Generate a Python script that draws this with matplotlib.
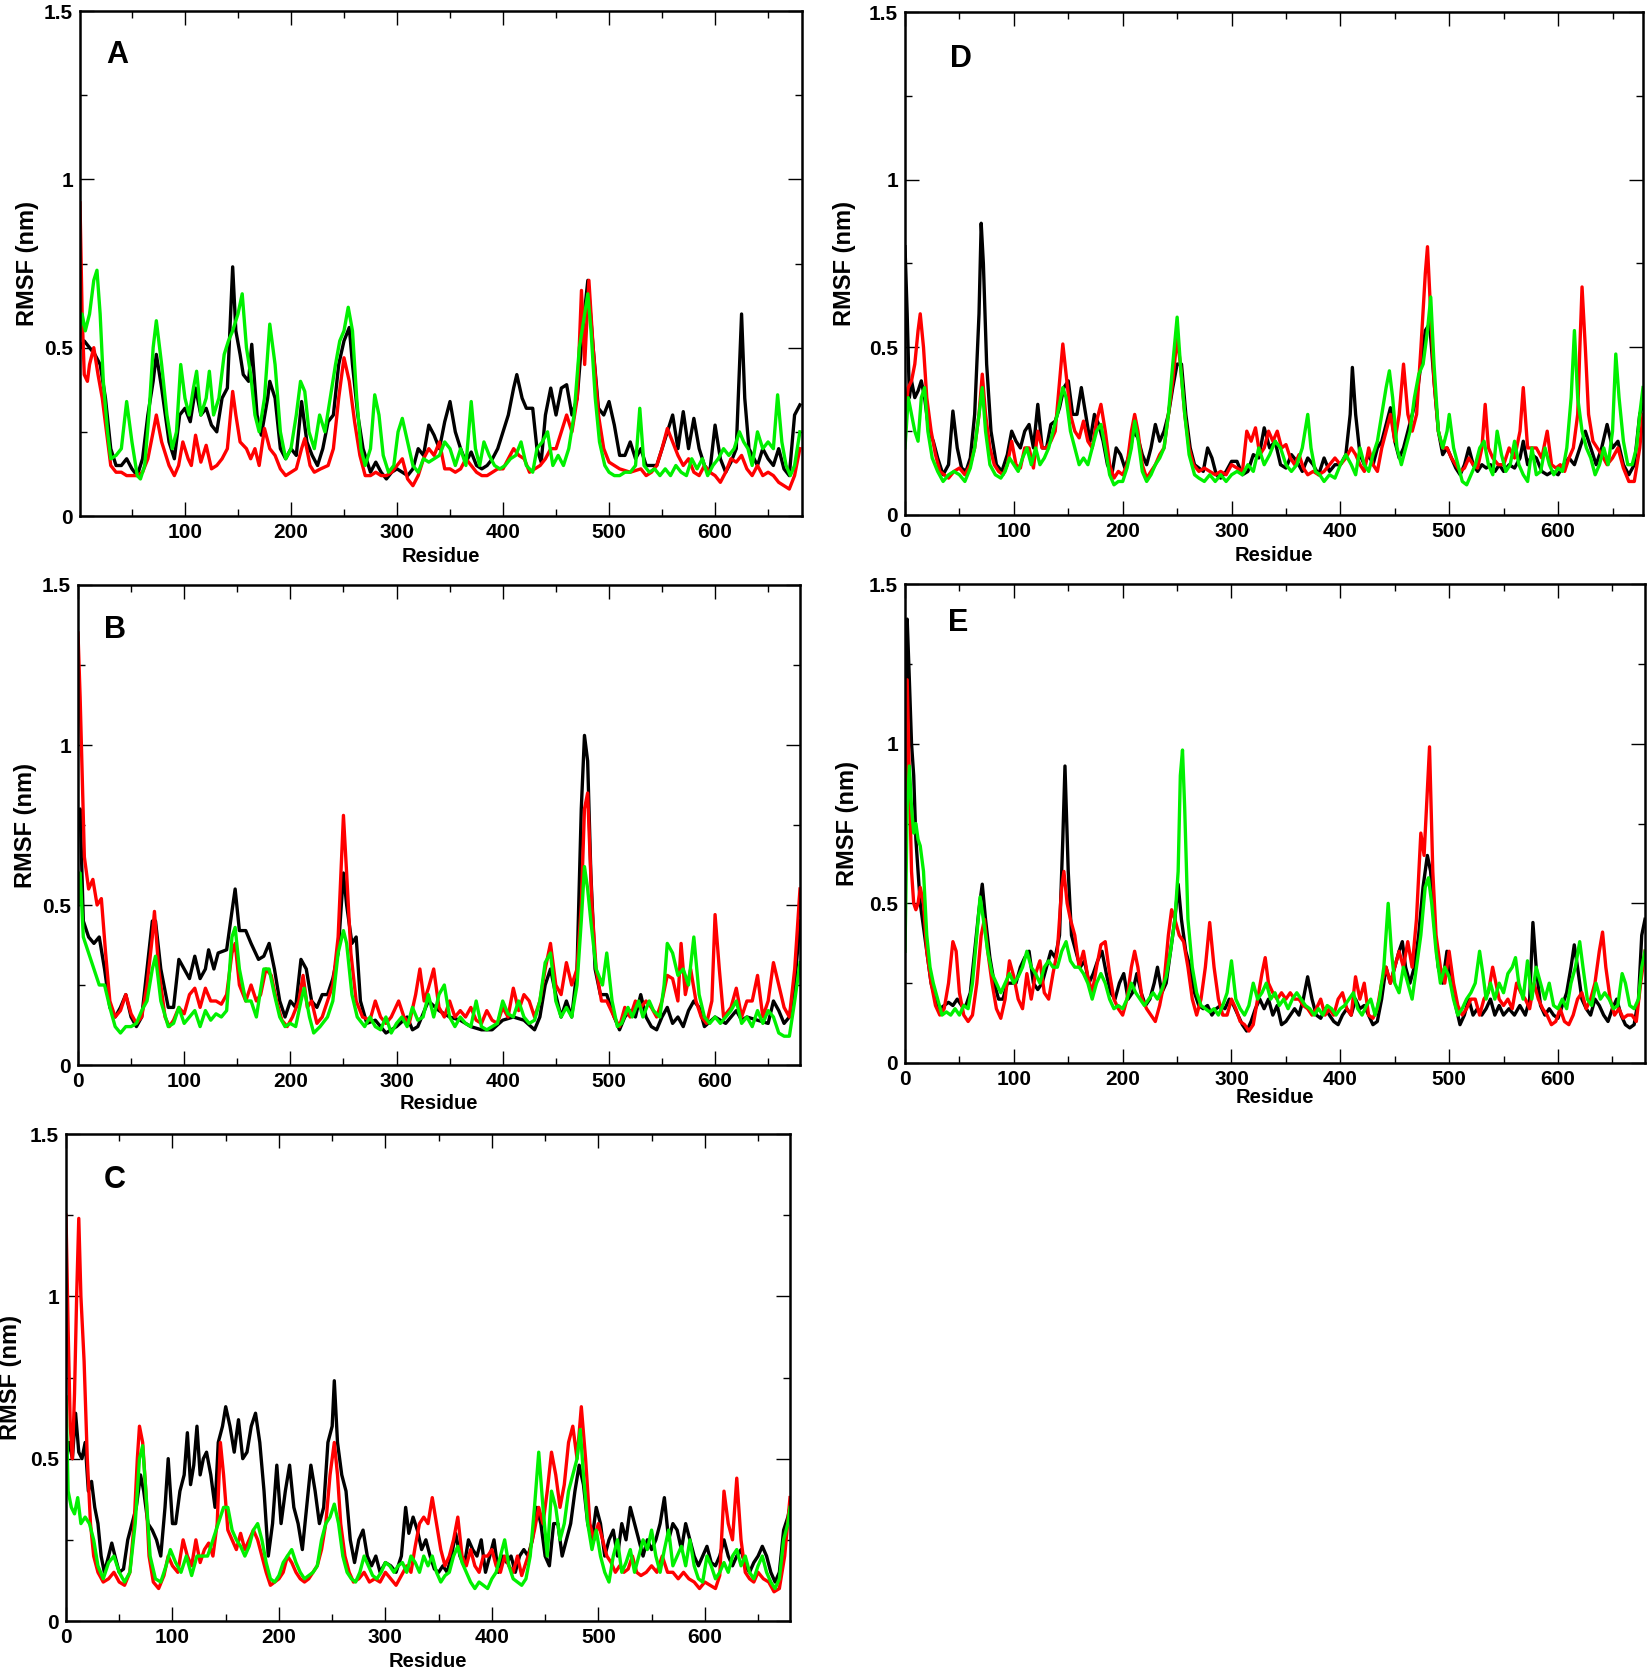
import matplotlib
matplotlib.use("Agg")
import matplotlib.pyplot as plt
from matplotlib import font_manager
from matplotlib.ticker import MultipleLocator, FixedLocator

names = {f.name for f in font_manager.fontManager.ttflist}
NARROW = "Liberation Sans Narrow" if "Liberation Sans Narrow" in names else "Liberation Sans"
plt.rcParams['font.family'] = [NARROW, 'DejaVu Sans']

# ---------------- data: (residue, RMSF nm) ----------------
A_black = [(1,0.5),(5,0.52),(10,0.5),(15,0.48),(20,0.45),(25,0.35),(30,0.2),(35,0.15),(40,0.15),(45,0.17),(50,0.14),(55,0.12),(60,0.17),(65,0.3),(70,0.4),(73,0.48),(78,0.38),(85,0.22),(90,0.17),(95,0.3),(100,0.32),(105,0.28),(110,0.38),(115,0.3),(120,0.32),(125,0.27),(130,0.25),(135,0.35),(140,0.38),(145,0.74),(148,0.55),(152,0.48),(155,0.42),(160,0.4),(163,0.51),(168,0.3),(172,0.24),(178,0.35),(180,0.4),(185,0.35),(190,0.2),(195,0.17),(200,0.2),(205,0.18),(210,0.34),(215,0.22),(220,0.18),(225,0.15),(230,0.2),(235,0.28),(240,0.3),(245,0.45),(250,0.52),(255,0.56),(258,0.45),(263,0.3),(268,0.2),(275,0.13),(280,0.16),(285,0.13),(290,0.11),(295,0.13),(300,0.14),(310,0.12),(315,0.14),(320,0.2),(325,0.18),(330,0.27),(335,0.24),(340,0.2),(345,0.28),(350,0.34),(355,0.25),(360,0.2),(365,0.16),(370,0.19),(375,0.15),(380,0.14),(385,0.15),(390,0.17),(395,0.2),(400,0.25),(405,0.3),(410,0.38),(413,0.42),(418,0.35),(422,0.32),(428,0.32),(432,0.2),(436,0.16),(440,0.3),(445,0.38),(450,0.3),(455,0.38),(460,0.39),(465,0.3),(470,0.35),(475,0.55),(480,0.7),(485,0.5),(490,0.32),(495,0.3),(500,0.34),(505,0.27),(510,0.18),(515,0.18),(520,0.22),(525,0.17),(530,0.2),(535,0.15),(540,0.15),(545,0.15),(550,0.2),(555,0.25),(560,0.3),(565,0.2),(570,0.31),(575,0.2),(580,0.29),(585,0.2),(590,0.15),(595,0.13),(600,0.27),(605,0.17),(610,0.13),(615,0.16),(620,0.2),(625,0.6),(628,0.35),(632,0.2),(640,0.15),(645,0.2),(650,0.17),(655,0.15),(660,0.2),(665,0.14),(670,0.12),(675,0.3),(680,0.33)]
A_red = [(1,0.93),(3,0.6),(5,0.42),(8,0.4),(10,0.45),(14,0.5),(18,0.42),(22,0.35),(26,0.25),(30,0.15),(35,0.13),(40,0.13),(45,0.12),(50,0.12),(55,0.12),(60,0.13),(65,0.17),(70,0.25),(73,0.3),(78,0.22),(85,0.15),(90,0.12),(94,0.15),(98,0.22),(103,0.17),(106,0.15),(110,0.24),(115,0.16),(120,0.21),(125,0.14),(130,0.15),(135,0.17),(140,0.2),(145,0.37),(148,0.3),(152,0.22),(158,0.2),(162,0.17),(166,0.2),(170,0.15),(175,0.26),(180,0.2),(185,0.18),(190,0.14),(195,0.12),(200,0.13),(205,0.14),(210,0.2),(213,0.23),(218,0.15),(222,0.13),(228,0.14),(235,0.15),(240,0.2),(245,0.35),(250,0.47),(255,0.4),(260,0.28),(265,0.18),(270,0.12),(275,0.12),(280,0.13),(285,0.12),(290,0.12),(295,0.13),(300,0.15),(305,0.17),(310,0.11),(315,0.09),(320,0.12),(325,0.17),(330,0.2),(335,0.18),(340,0.22),(345,0.14),(350,0.14),(355,0.13),(360,0.14),(365,0.17),(370,0.15),(375,0.13),(380,0.12),(385,0.12),(390,0.13),(395,0.14),(400,0.14),(405,0.17),(410,0.2),(415,0.18),(420,0.17),(425,0.13),(430,0.14),(435,0.15),(440,0.17),(445,0.2),(450,0.2),(455,0.25),(460,0.3),(465,0.25),(470,0.35),(474,0.67),(477,0.45),(481,0.7),(485,0.5),(490,0.3),(495,0.2),(500,0.16),(505,0.15),(510,0.14),(520,0.13),(530,0.14),(535,0.12),(540,0.13),(545,0.15),(550,0.2),(555,0.26),(560,0.22),(565,0.18),(570,0.15),(575,0.17),(580,0.13),(585,0.12),(590,0.15),(595,0.13),(600,0.12),(605,0.1),(610,0.13),(615,0.17),(620,0.16),(625,0.18),(630,0.14),(635,0.12),(640,0.15),(645,0.12),(650,0.13),(655,0.12),(660,0.1),(665,0.09),(670,0.08),(675,0.12),(680,0.2)]
A_green = [(1,0.55),(3,0.6),(6,0.55),(10,0.6),(14,0.7),(17,0.73),(20,0.6),(23,0.4),(27,0.25),(30,0.17),(35,0.18),(40,0.2),(45,0.34),(50,0.22),(55,0.12),(58,0.11),(62,0.15),(66,0.3),(70,0.5),(73,0.58),(78,0.45),(83,0.3),(88,0.2),(92,0.25),(96,0.45),(100,0.35),(104,0.3),(108,0.38),(111,0.43),(115,0.3),(120,0.35),(123,0.43),(127,0.3),(132,0.35),(137,0.48),(141,0.52),(145,0.55),(150,0.6),(154,0.66),(158,0.5),(162,0.42),(166,0.3),(170,0.25),(175,0.35),(180,0.57),(185,0.45),(190,0.25),(195,0.17),(200,0.2),(205,0.3),(209,0.4),(213,0.37),(217,0.25),(222,0.2),(227,0.3),(232,0.25),(237,0.35),(242,0.45),(246,0.52),(250,0.55),(254,0.62),(258,0.55),(262,0.35),(266,0.2),(270,0.15),(275,0.2),(279,0.36),(283,0.3),(287,0.18),(292,0.13),(297,0.15),(301,0.25),(305,0.29),(310,0.22),(315,0.15),(320,0.13),(325,0.17),(330,0.16),(335,0.17),(340,0.18),(345,0.22),(350,0.2),(355,0.15),(360,0.2),(365,0.15),(370,0.34),(374,0.2),(378,0.15),(382,0.22),(387,0.18),(392,0.15),(397,0.14),(402,0.15),(407,0.17),(412,0.18),(417,0.22),(422,0.15),(428,0.13),(432,0.2),(437,0.22),(442,0.25),(447,0.15),(452,0.18),(457,0.15),(462,0.2),(467,0.3),(472,0.5),(477,0.6),(480,0.66),(483,0.55),(487,0.35),(491,0.22),(496,0.15),(500,0.13),(505,0.12),(510,0.12),(515,0.13),(520,0.13),(525,0.15),(529,0.32),(533,0.15),(538,0.13),(543,0.14),(548,0.12),(553,0.14),(558,0.12),(563,0.15),(568,0.13),(573,0.12),(578,0.17),(583,0.14),(588,0.17),(593,0.12),(598,0.15),(603,0.17),(608,0.2),(613,0.18),(618,0.2),(623,0.25),(627,0.22),(631,0.2),(635,0.15),(640,0.25),(645,0.2),(650,0.22),(655,0.2),(659,0.36),(663,0.22),(667,0.15),(671,0.12),(675,0.15),(680,0.25)]

B_black = [(0,0.75),(2,0.8),(5,0.45),(10,0.4),(15,0.38),(20,0.4),(25,0.3),(30,0.18),(35,0.15),(40,0.18),(45,0.22),(50,0.15),(55,0.12),(60,0.15),(65,0.3),(70,0.45),(73,0.45),(78,0.3),(85,0.18),(90,0.18),(95,0.33),(100,0.3),(105,0.27),(110,0.34),(115,0.27),(120,0.3),(123,0.36),(128,0.3),(132,0.35),(140,0.36),(145,0.48),(148,0.55),(152,0.42),(158,0.42),(163,0.38),(170,0.33),(175,0.34),(180,0.38),(185,0.3),(190,0.2),(195,0.15),(200,0.2),(205,0.18),(210,0.33),(215,0.3),(220,0.2),(225,0.18),(230,0.22),(235,0.22),(240,0.27),(245,0.35),(250,0.6),(253,0.5),(258,0.38),(262,0.4),(266,0.2),(272,0.13),(280,0.14),(290,0.1),(300,0.12),(310,0.15),(315,0.11),(320,0.12),(330,0.2),(340,0.17),(350,0.15),(360,0.14),(370,0.12),(380,0.11),(390,0.11),(400,0.14),(410,0.15),(420,0.14),(430,0.11),(435,0.15),(440,0.25),(445,0.3),(450,0.22),(455,0.15),(460,0.2),(465,0.15),(470,0.3),(474,0.8),(477,1.03),(480,0.95),(483,0.6),(487,0.3),(492,0.22),(498,0.22),(505,0.15),(510,0.11),(515,0.15),(520,0.17),(525,0.15),(530,0.22),(535,0.15),(540,0.12),(545,0.11),(550,0.15),(555,0.18),(560,0.13),(565,0.15),(570,0.12),(575,0.17),(580,0.2),(585,0.18),(590,0.12),(600,0.15),(605,0.14),(610,0.13),(620,0.17),(625,0.14),(630,0.15),(640,0.14),(650,0.13),(655,0.2),(660,0.17),(665,0.13),(670,0.15),(675,0.25),(680,0.45)]
B_red = [(0,1.35),(2,1.15),(4,0.9),(6,0.65),(10,0.55),(14,0.58),(18,0.5),(22,0.52),(26,0.35),(30,0.2),(35,0.15),(40,0.17),(45,0.22),(50,0.16),(55,0.13),(60,0.15),(65,0.25),(70,0.4),(72,0.48),(76,0.3),(82,0.15),(86,0.12),(90,0.14),(95,0.18),(100,0.16),(105,0.22),(110,0.24),(115,0.18),(120,0.24),(125,0.2),(130,0.2),(135,0.19),(140,0.22),(145,0.35),(148,0.38),(152,0.25),(158,0.2),(163,0.25),(168,0.2),(172,0.22),(177,0.3),(182,0.28),(187,0.2),(192,0.14),(197,0.12),(202,0.15),(208,0.2),(212,0.28),(216,0.18),(220,0.2),(225,0.13),(230,0.15),(235,0.2),(240,0.25),(245,0.4),(250,0.78),(253,0.6),(257,0.35),(262,0.2),(268,0.15),(275,0.14),(280,0.2),(285,0.15),(290,0.13),(295,0.15),(302,0.2),(307,0.15),(312,0.13),(318,0.22),(322,0.3),(326,0.2),(330,0.24),(335,0.3),(340,0.18),(345,0.15),(350,0.2),(355,0.15),(360,0.17),(365,0.15),(370,0.18),(375,0.14),(380,0.13),(385,0.17),(390,0.14),(395,0.13),(400,0.18),(405,0.15),(410,0.24),(415,0.17),(420,0.22),(425,0.2),(430,0.15),(435,0.2),(440,0.3),(445,0.38),(450,0.25),(455,0.22),(460,0.32),(465,0.25),(470,0.3),(474,0.5),(477,0.8),(480,0.85),(484,0.5),(488,0.3),(493,0.2),(498,0.2),(505,0.15),(510,0.12),(515,0.18),(520,0.15),(525,0.2),(530,0.18),(535,0.2),(540,0.18),(545,0.15),(550,0.2),(555,0.28),(560,0.27),(565,0.2),(568,0.38),(572,0.22),(577,0.3),(582,0.2),(587,0.15),(592,0.13),(597,0.2),(600,0.47),(604,0.3),(608,0.15),(615,0.18),(620,0.24),(625,0.15),(630,0.2),(635,0.2),(640,0.28),(645,0.15),(650,0.2),(655,0.32),(660,0.25),(665,0.18),(670,0.15),(675,0.3),(680,0.55)]
B_green = [(0,0.5),(2,0.6),(5,0.4),(10,0.35),(15,0.3),(20,0.25),(25,0.25),(30,0.18),(35,0.12),(40,0.1),(45,0.12),(50,0.12),(55,0.13),(60,0.17),(65,0.2),(70,0.3),(73,0.34),(78,0.2),(85,0.12),(90,0.13),(95,0.18),(100,0.13),(105,0.15),(110,0.17),(115,0.12),(120,0.17),(125,0.14),(130,0.16),(135,0.15),(140,0.17),(145,0.4),(148,0.43),(152,0.3),(158,0.2),(163,0.2),(168,0.15),(175,0.3),(180,0.3),(185,0.22),(190,0.15),(195,0.12),(200,0.13),(205,0.12),(210,0.2),(213,0.24),(218,0.15),(222,0.1),(228,0.12),(235,0.15),(240,0.2),(245,0.35),(250,0.42),(253,0.38),(258,0.22),(263,0.15),(270,0.12),(275,0.15),(280,0.12),(285,0.11),(290,0.15),(295,0.1),(300,0.13),(305,0.15),(310,0.12),(315,0.18),(320,0.14),(325,0.15),(330,0.22),(335,0.15),(340,0.22),(345,0.25),(350,0.15),(355,0.12),(360,0.15),(365,0.13),(370,0.12),(375,0.2),(380,0.12),(385,0.11),(390,0.12),(395,0.13),(400,0.2),(405,0.16),(410,0.15),(415,0.2),(420,0.15),(425,0.13),(430,0.14),(435,0.2),(440,0.32),(445,0.35),(450,0.2),(455,0.15),(460,0.18),(465,0.15),(470,0.25),(474,0.45),(477,0.62),(480,0.55),(483,0.45),(488,0.3),(494,0.25),(498,0.35),(503,0.2),(508,0.12),(512,0.13),(518,0.18),(522,0.15),(528,0.2),(532,0.15),(538,0.2),(542,0.17),(548,0.15),(552,0.25),(555,0.38),(560,0.35),(565,0.28),(570,0.3),(575,0.25),(580,0.4),(585,0.22),(590,0.15),(595,0.13),(600,0.15),(605,0.13),(610,0.15),(615,0.17),(620,0.2),(625,0.13),(630,0.15),(635,0.12),(640,0.17),(645,0.13),(650,0.17),(655,0.15),(660,0.1),(665,0.09),(670,0.09),(675,0.2),(680,0.32)]

C_black = [(0,0.5),(3,0.55),(6,0.5),(9,0.64),(12,0.52),(15,0.5),(18,0.55),(21,0.4),(24,0.43),(27,0.35),(30,0.3),(33,0.2),(36,0.15),(40,0.2),(43,0.24),(46,0.2),(50,0.15),(54,0.16),(58,0.25),(62,0.3),(66,0.35),(70,0.45),(73,0.4),(77,0.3),(81,0.28),(85,0.25),(89,0.2),(93,0.35),(96,0.5),(100,0.3),(103,0.3),(107,0.4),(111,0.45),(114,0.58),(117,0.42),(120,0.48),(123,0.6),(126,0.45),(129,0.5),(132,0.52),(136,0.45),(140,0.35),(143,0.55),(147,0.6),(150,0.66),(154,0.6),(158,0.52),(162,0.62),(166,0.5),(170,0.52),(174,0.6),(178,0.64),(182,0.55),(186,0.4),(190,0.2),(194,0.3),(198,0.48),(202,0.3),(206,0.4),(210,0.48),(214,0.35),(218,0.3),(222,0.22),(226,0.35),(230,0.48),(234,0.4),(238,0.3),(242,0.35),(246,0.55),(250,0.6),(252,0.74),(255,0.55),(259,0.45),(263,0.4),(267,0.25),(271,0.18),(275,0.25),(279,0.28),(283,0.2),(287,0.17),(291,0.2),(295,0.15),(300,0.18),(305,0.17),(310,0.15),(315,0.2),(319,0.35),(322,0.27),(326,0.32),(330,0.28),(334,0.22),(338,0.25),(342,0.2),(346,0.16),(350,0.15),(354,0.17),(358,0.15),(362,0.2),(366,0.27),(370,0.2),(374,0.17),(378,0.25),(382,0.22),(386,0.2),(390,0.25),(394,0.15),(398,0.2),(402,0.25),(406,0.15),(410,0.2),(414,0.18),(418,0.2),(422,0.15),(426,0.2),(430,0.22),(434,0.2),(438,0.25),(442,0.35),(446,0.3),(450,0.2),(454,0.17),(458,0.3),(462,0.3),(466,0.2),(470,0.25),(474,0.3),(478,0.4),(482,0.48),(486,0.42),(490,0.3),(494,0.25),(498,0.35),(502,0.3),(506,0.2),(510,0.25),(514,0.28),(518,0.2),(522,0.3),(526,0.25),(530,0.35),(534,0.3),(538,0.25),(542,0.2),(546,0.25),(550,0.22),(554,0.25),(558,0.3),(562,0.38),(566,0.25),(570,0.3),(574,0.28),(578,0.22),(582,0.3),(586,0.25),(590,0.2),(594,0.17),(598,0.2),(602,0.23),(606,0.18),(610,0.17),(614,0.2),(618,0.25),(622,0.2),(626,0.17),(630,0.2),(634,0.22),(638,0.17),(642,0.15),(646,0.18),(650,0.2),(654,0.23),(658,0.2),(662,0.15),(666,0.12),(670,0.15),(674,0.28),(678,0.32),(680,0.35)]
C_red = [(0,1.25),(2,0.9),(4,0.6),(6,0.5),(8,0.7),(10,1.0),(12,1.24),(14,1.0),(17,0.8),(20,0.5),(23,0.3),(26,0.2),(30,0.15),(35,0.12),(40,0.13),(45,0.15),(50,0.12),(55,0.11),(60,0.15),(64,0.3),(67,0.5),(69,0.6),(72,0.55),(75,0.4),(78,0.2),(82,0.12),(87,0.1),(92,0.14),(96,0.2),(100,0.17),(105,0.15),(110,0.25),(114,0.2),(118,0.17),(122,0.25),(126,0.18),(130,0.22),(134,0.24),(138,0.2),(142,0.3),(145,0.55),(148,0.45),(152,0.28),(156,0.25),(160,0.22),(164,0.27),(168,0.22),(172,0.25),(176,0.28),(180,0.25),(184,0.2),(188,0.15),(192,0.11),(196,0.12),(200,0.13),(204,0.15),(208,0.2),(212,0.18),(216,0.15),(220,0.13),(224,0.12),(228,0.13),(232,0.15),(236,0.17),(240,0.22),(244,0.3),(248,0.45),(252,0.55),(255,0.45),(258,0.3),(262,0.2),(266,0.15),(270,0.12),(275,0.13),(280,0.15),(285,0.12),(290,0.13),(295,0.12),(300,0.15),(305,0.13),(310,0.11),(315,0.14),(320,0.17),(324,0.15),(328,0.23),(332,0.3),(336,0.32),(340,0.3),(344,0.38),(348,0.3),(352,0.22),(356,0.17),(360,0.2),(364,0.25),(368,0.32),(372,0.2),(376,0.17),(380,0.22),(384,0.17),(388,0.15),(392,0.2),(396,0.2),(400,0.22),(404,0.17),(408,0.15),(412,0.2),(416,0.17),(420,0.15),(424,0.2),(428,0.14),(432,0.18),(436,0.22),(440,0.28),(444,0.35),(448,0.3),(452,0.4),(456,0.52),(460,0.45),(464,0.35),(468,0.42),(472,0.55),(476,0.6),(480,0.5),(484,0.66),(488,0.5),(492,0.3),(496,0.25),(500,0.3),(504,0.25),(508,0.2),(512,0.18),(516,0.15),(520,0.17),(524,0.15),(528,0.16),(532,0.2),(536,0.15),(540,0.14),(545,0.15),(550,0.17),(555,0.15),(560,0.2),(565,0.15),(570,0.15),(575,0.13),(580,0.15),(585,0.13),(590,0.12),(595,0.1),(600,0.12),(605,0.11),(610,0.1),(614,0.14),(618,0.4),(622,0.3),(626,0.25),(630,0.44),(634,0.25),(638,0.15),(642,0.13),(646,0.12),(650,0.15),(655,0.13),(660,0.12),(665,0.09),(670,0.1),(675,0.2),(680,0.38)]
C_green = [(0,0.69),(2,0.4),(5,0.35),(8,0.33),(11,0.38),(14,0.3),(18,0.32),(22,0.3),(26,0.25),(30,0.17),(35,0.13),(40,0.18),(45,0.2),(50,0.15),(55,0.12),(60,0.15),(65,0.3),(69,0.5),(72,0.54),(75,0.4),(79,0.2),(84,0.13),(89,0.12),(94,0.17),(98,0.22),(103,0.18),(108,0.15),(113,0.2),(118,0.14),(123,0.2),(128,0.2),(133,0.2),(138,0.25),(143,0.3),(148,0.35),(152,0.35),(156,0.28),(160,0.25),(164,0.23),(168,0.2),(172,0.23),(176,0.28),(180,0.3),(184,0.25),(188,0.18),(192,0.13),(196,0.12),(200,0.14),(204,0.18),(208,0.2),(212,0.22),(216,0.18),(220,0.15),(224,0.13),(228,0.14),(232,0.15),(236,0.17),(240,0.25),(244,0.3),(248,0.32),(252,0.36),(256,0.3),(260,0.2),(264,0.15),(268,0.13),(272,0.12),(276,0.15),(280,0.2),(284,0.17),(288,0.14),(292,0.13),(296,0.15),(300,0.18),(304,0.17),(308,0.15),(312,0.17),(316,0.18),(320,0.15),(324,0.2),(328,0.18),(332,0.15),(336,0.2),(340,0.17),(344,0.2),(348,0.15),(352,0.12),(356,0.14),(360,0.15),(364,0.2),(368,0.23),(372,0.18),(376,0.15),(380,0.12),(384,0.1),(388,0.12),(392,0.11),(396,0.1),(400,0.13),(404,0.15),(408,0.2),(412,0.25),(416,0.17),(420,0.13),(424,0.12),(428,0.11),(432,0.13),(436,0.2),(440,0.35),(444,0.52),(448,0.35),(452,0.2),(456,0.4),(460,0.35),(464,0.25),(468,0.3),(472,0.4),(476,0.45),(480,0.5),(483,0.59),(486,0.45),(490,0.3),(494,0.22),(498,0.28),(502,0.2),(506,0.15),(510,0.12),(514,0.2),(518,0.25),(522,0.15),(526,0.18),(530,0.22),(534,0.15),(538,0.2),(542,0.25),(546,0.22),(550,0.28),(554,0.2),(558,0.15),(562,0.22),(566,0.28),(570,0.17),(574,0.2),(578,0.23),(582,0.17),(586,0.25),(590,0.17),(594,0.13),(598,0.12),(602,0.2),(606,0.17),(610,0.13),(614,0.15),(618,0.18),(622,0.15),(626,0.2),(630,0.22),(634,0.17),(638,0.2),(642,0.15),(646,0.13),(650,0.17),(654,0.2),(658,0.15),(662,0.12),(666,0.1),(670,0.13),(674,0.25),(678,0.3),(680,0.35)]

D_black = [(0,0.8),(2,0.6),(4,0.35),(6,0.4),(9,0.35),(12,0.37),(15,0.4),(18,0.35),(22,0.25),(26,0.22),(30,0.17),(35,0.12),(40,0.15),(44,0.31),(48,0.2),(52,0.14),(56,0.13),(60,0.17),(64,0.3),(68,0.6),(70,0.87),(72,0.75),(75,0.45),(79,0.25),(84,0.15),(89,0.13),(94,0.18),(98,0.25),(102,0.22),(106,0.2),(110,0.25),(114,0.27),(118,0.2),(122,0.33),(126,0.2),(130,0.2),(134,0.27),(138,0.28),(142,0.32),(146,0.38),(150,0.4),(154,0.3),(158,0.3),(162,0.38),(166,0.3),(170,0.22),(174,0.3),(178,0.27),(182,0.22),(186,0.15),(190,0.12),(194,0.2),(198,0.18),(202,0.14),(206,0.18),(210,0.25),(214,0.23),(218,0.18),(222,0.15),(226,0.2),(230,0.27),(234,0.22),(238,0.25),(242,0.3),(246,0.38),(250,0.45),(254,0.45),(258,0.3),(262,0.2),(266,0.15),(270,0.14),(274,0.13),(278,0.2),(282,0.17),(286,0.12),(290,0.11),(295,0.13),(300,0.16),(305,0.16),(310,0.12),(315,0.13),(320,0.18),(325,0.17),(330,0.26),(335,0.2),(340,0.22),(345,0.15),(350,0.14),(355,0.18),(360,0.16),(365,0.13),(370,0.17),(375,0.15),(380,0.12),(385,0.17),(390,0.13),(395,0.15),(400,0.15),(405,0.18),(409,0.3),(411,0.44),(414,0.3),(418,0.18),(422,0.15),(426,0.18),(430,0.15),(434,0.2),(438,0.22),(442,0.27),(446,0.32),(450,0.22),(454,0.17),(458,0.2),(462,0.25),(466,0.3),(470,0.35),(474,0.45),(478,0.55),(482,0.57),(486,0.4),(490,0.25),(494,0.18),(498,0.2),(502,0.17),(506,0.14),(510,0.12),(514,0.15),(518,0.2),(522,0.15),(526,0.13),(530,0.15),(534,0.14),(538,0.15),(542,0.13),(546,0.15),(550,0.13),(555,0.15),(560,0.14),(565,0.17),(568,0.22),(572,0.15),(576,0.18),(580,0.17),(585,0.13),(590,0.12),(595,0.13),(600,0.12),(605,0.15),(610,0.17),(615,0.15),(620,0.2),(625,0.25),(630,0.2),(635,0.15),(640,0.2),(645,0.27),(650,0.2),(655,0.22),(660,0.15),(665,0.12),(670,0.15),(675,0.3),(678,0.33)]
D_red = [(0,0.3),(3,0.38),(6,0.4),(9,0.45),(12,0.55),(14,0.6),(17,0.5),(20,0.35),(24,0.25),(28,0.18),(32,0.13),(36,0.12),(40,0.11),(45,0.13),(50,0.14),(55,0.12),(60,0.15),(64,0.2),(68,0.3),(71,0.42),(74,0.3),(78,0.2),(82,0.15),(86,0.13),(90,0.12),(94,0.15),(98,0.22),(102,0.15),(106,0.14),(110,0.2),(114,0.2),(118,0.14),(122,0.25),(126,0.2),(130,0.2),(134,0.22),(138,0.25),(142,0.4),(145,0.51),(148,0.42),(152,0.3),(156,0.25),(160,0.23),(164,0.28),(168,0.22),(172,0.2),(176,0.28),(180,0.33),(184,0.25),(188,0.15),(192,0.11),(196,0.13),(200,0.12),(204,0.15),(208,0.25),(211,0.3),(214,0.25),(218,0.15),(222,0.11),(226,0.13),(230,0.15),(234,0.18),(238,0.2),(242,0.3),(246,0.4),(250,0.53),(253,0.45),(257,0.3),(261,0.2),(265,0.15),(270,0.13),(275,0.14),(280,0.13),(285,0.12),(290,0.13),(295,0.12),(300,0.15),(305,0.14),(310,0.13),(314,0.25),(318,0.22),(322,0.26),(326,0.18),(330,0.2),(334,0.25),(338,0.22),(342,0.25),(346,0.2),(350,0.21),(354,0.17),(358,0.15),(362,0.18),(366,0.14),(370,0.12),(375,0.13),(380,0.12),(385,0.13),(390,0.15),(395,0.17),(400,0.15),(405,0.17),(410,0.2),(414,0.18),(418,0.15),(422,0.13),(426,0.2),(430,0.15),(434,0.13),(438,0.2),(442,0.25),(446,0.3),(450,0.22),(454,0.3),(458,0.45),(462,0.3),(466,0.25),(470,0.3),(474,0.5),(478,0.72),(480,0.8),(483,0.6),(486,0.4),(490,0.25),(494,0.2),(498,0.2),(502,0.17),(506,0.15),(510,0.13),(514,0.14),(518,0.17),(522,0.15),(526,0.14),(530,0.2),(533,0.33),(536,0.2),(540,0.17),(545,0.15),(550,0.15),(555,0.2),(560,0.17),(565,0.25),(568,0.38),(572,0.2),(576,0.2),(580,0.2),(585,0.17),(590,0.25),(594,0.15),(598,0.14),(602,0.15),(606,0.13),(610,0.17),(614,0.2),(618,0.3),(620,0.5),(622,0.68),(625,0.5),(628,0.3),(632,0.22),(636,0.2),(640,0.18),(645,0.15),(650,0.17),(655,0.2),(660,0.14),(665,0.1),(670,0.1),(675,0.2),(678,0.3)]
D_green = [(0,0.2),(3,0.35),(6,0.3),(9,0.25),(12,0.22),(15,0.35),(18,0.38),(21,0.25),(25,0.17),(30,0.13),(35,0.1),(40,0.12),(45,0.13),(50,0.12),(55,0.1),(60,0.14),(64,0.2),(68,0.3),(71,0.38),(74,0.25),(78,0.15),(83,0.12),(88,0.11),(92,0.13),(96,0.17),(100,0.15),(104,0.13),(108,0.17),(112,0.2),(116,0.15),(120,0.2),(124,0.15),(128,0.17),(132,0.2),(136,0.25),(140,0.3),(145,0.38),(148,0.35),(152,0.25),(156,0.2),(160,0.15),(164,0.17),(168,0.15),(172,0.2),(176,0.25),(180,0.27),(184,0.2),(188,0.12),(192,0.09),(196,0.1),(200,0.1),(204,0.14),(208,0.2),(211,0.28),(214,0.23),(218,0.13),(222,0.1),(226,0.12),(230,0.15),(234,0.17),(238,0.2),(242,0.3),(246,0.45),(250,0.59),(253,0.45),(257,0.3),(261,0.18),(266,0.12),(270,0.11),(275,0.1),(280,0.12),(285,0.1),(290,0.12),(295,0.1),(300,0.12),(305,0.13),(310,0.12),(315,0.15),(320,0.13),(325,0.2),(330,0.15),(335,0.18),(340,0.22),(345,0.2),(350,0.15),(355,0.13),(360,0.15),(365,0.2),(370,0.3),(373,0.2),(377,0.13),(381,0.12),(385,0.1),(390,0.12),(395,0.11),(400,0.15),(405,0.18),(410,0.15),(414,0.12),(418,0.2),(422,0.15),(426,0.13),(430,0.18),(434,0.22),(438,0.3),(442,0.38),(445,0.43),(448,0.35),(452,0.2),(456,0.15),(460,0.2),(464,0.25),(468,0.35),(472,0.42),(476,0.45),(480,0.55),(483,0.65),(486,0.45),(490,0.25),(494,0.2),(498,0.25),(500,0.3),(504,0.2),(508,0.15),(512,0.1),(516,0.09),(520,0.12),(524,0.15),(528,0.2),(532,0.22),(536,0.15),(540,0.12),(544,0.25),(548,0.18),(552,0.13),(556,0.15),(560,0.22),(564,0.15),(568,0.12),(572,0.1),(576,0.2),(580,0.12),(584,0.13),(588,0.2),(592,0.15),(596,0.12),(600,0.14),(604,0.13),(608,0.2),(612,0.35),(615,0.55),(618,0.35),(622,0.25),(626,0.2),(630,0.17),(634,0.12),(638,0.15),(642,0.2),(646,0.15),(650,0.25),(653,0.48),(656,0.35),(660,0.22),(664,0.15),(668,0.15),(672,0.2),(675,0.3),(678,0.38)]

E_black = [(0,0.6),(2,1.39),(4,1.2),(6,1.0),(8,0.9),(10,0.7),(12,0.6),(14,0.5),(16,0.45),(20,0.35),(24,0.25),(28,0.2),(32,0.17),(36,0.18),(40,0.19),(44,0.18),(48,0.2),(52,0.18),(56,0.18),(60,0.22),(64,0.35),(68,0.48),(71,0.56),(74,0.45),(78,0.33),(82,0.25),(86,0.2),(90,0.2),(94,0.25),(98,0.25),(102,0.25),(106,0.3),(110,0.33),(114,0.35),(118,0.25),(122,0.23),(126,0.25),(130,0.3),(134,0.35),(138,0.33),(142,0.4),(145,0.7),(147,0.93),(150,0.6),(153,0.4),(157,0.35),(161,0.3),(165,0.32),(169,0.25),(173,0.28),(177,0.32),(181,0.35),(185,0.28),(189,0.22),(193,0.2),(197,0.25),(201,0.28),(205,0.2),(209,0.22),(213,0.28),(217,0.22),(221,0.18),(225,0.2),(229,0.25),(232,0.3),(236,0.22),(240,0.25),(244,0.35),(248,0.45),(251,0.56),(254,0.45),(258,0.35),(262,0.3),(266,0.22),(270,0.18),(274,0.17),(278,0.18),(282,0.15),(286,0.17),(290,0.18),(294,0.17),(298,0.2),(302,0.18),(306,0.15),(310,0.12),(314,0.1),(318,0.13),(322,0.17),(326,0.2),(330,0.17),(334,0.2),(338,0.15),(342,0.18),(346,0.12),(350,0.13),(354,0.15),(358,0.17),(362,0.15),(366,0.2),(370,0.27),(374,0.2),(378,0.15),(382,0.14),(386,0.17),(390,0.15),(394,0.13),(398,0.12),(402,0.15),(406,0.17),(410,0.15),(414,0.2),(418,0.17),(422,0.18),(426,0.15),(430,0.12),(434,0.13),(438,0.2),(442,0.3),(446,0.25),(450,0.3),(454,0.35),(457,0.38),(460,0.3),(464,0.25),(468,0.3),(472,0.4),(476,0.55),(480,0.65),(483,0.6),(486,0.45),(490,0.3),(494,0.25),(498,0.35),(502,0.25),(506,0.18),(510,0.12),(514,0.15),(518,0.2),(522,0.15),(526,0.17),(530,0.15),(534,0.17),(538,0.2),(542,0.15),(546,0.18),(550,0.15),(555,0.17),(560,0.15),(565,0.18),(570,0.15),(574,0.2),(577,0.44),(580,0.3),(584,0.18),(588,0.15),(592,0.17),(596,0.15),(600,0.14),(604,0.18),(608,0.22),(612,0.3),(615,0.37),(618,0.3),(622,0.2),(626,0.17),(630,0.15),(634,0.2),(638,0.18),(642,0.15),(646,0.13),(650,0.17),(654,0.2),(658,0.15),(662,0.12),(666,0.11),(670,0.12),(674,0.2),(677,0.4),(680,0.45)]
E_red = [(0,0.5),(2,1.2),(4,0.9),(6,0.6),(8,0.5),(10,0.48),(12,0.5),(14,0.55),(17,0.5),(20,0.35),(24,0.25),(28,0.18),(32,0.15),(36,0.17),(40,0.25),(44,0.38),(47,0.35),(50,0.22),(54,0.15),(58,0.13),(62,0.15),(66,0.25),(70,0.4),(73,0.45),(76,0.35),(80,0.25),(84,0.17),(88,0.14),(92,0.2),(96,0.32),(100,0.27),(104,0.2),(108,0.17),(112,0.28),(116,0.2),(120,0.28),(124,0.32),(128,0.22),(132,0.2),(136,0.28),(140,0.35),(144,0.55),(146,0.6),(149,0.5),(152,0.45),(156,0.4),(160,0.3),(164,0.35),(168,0.27),(172,0.22),(176,0.3),(180,0.37),(184,0.38),(188,0.28),(192,0.2),(196,0.17),(200,0.15),(204,0.2),(208,0.3),(211,0.35),(214,0.3),(218,0.2),(222,0.17),(226,0.15),(230,0.13),(234,0.18),(238,0.25),(242,0.4),(245,0.48),(248,0.45),(252,0.4),(256,0.38),(260,0.3),(264,0.2),(268,0.15),(272,0.2),(276,0.3),(280,0.44),(284,0.3),(288,0.2),(292,0.15),(296,0.15),(300,0.2),(304,0.17),(308,0.13),(312,0.12),(316,0.1),(320,0.12),(324,0.2),(328,0.28),(331,0.33),(334,0.25),(338,0.22),(342,0.2),(346,0.22),(350,0.2),(354,0.22),(358,0.2),(362,0.2),(366,0.18),(370,0.17),(374,0.15),(378,0.17),(382,0.2),(386,0.15),(390,0.17),(394,0.15),(398,0.2),(402,0.22),(406,0.17),(410,0.15),(414,0.27),(418,0.2),(422,0.25),(426,0.15),(430,0.14),(434,0.17),(438,0.25),(442,0.3),(446,0.25),(450,0.3),(454,0.35),(458,0.3),(462,0.38),(466,0.3),(470,0.45),(474,0.72),(477,0.65),(480,0.85),(482,0.99),(485,0.6),(488,0.4),(492,0.3),(496,0.25),(500,0.35),(504,0.25),(508,0.18),(512,0.15),(516,0.17),(520,0.2),(524,0.2),(528,0.15),(532,0.2),(536,0.22),(540,0.3),(543,0.25),(546,0.2),(550,0.18),(554,0.2),(558,0.17),(562,0.25),(566,0.22),(570,0.2),(574,0.17),(578,0.25),(582,0.2),(586,0.17),(590,0.15),(594,0.12),(598,0.13),(602,0.17),(606,0.13),(610,0.12),(614,0.15),(618,0.2),(622,0.22),(626,0.17),(630,0.2),(634,0.25),(638,0.35),(641,0.41),(644,0.3),(648,0.2),(652,0.15),(656,0.17),(660,0.14),(664,0.15),(668,0.15),(672,0.13),(676,0.25),(680,0.35)]
E_green = [(0,0.35),(2,0.8),(4,0.93),(6,0.8),(8,0.72),(10,0.75),(12,0.7),(14,0.68),(17,0.6),(20,0.4),(23,0.3),(26,0.25),(30,0.2),(34,0.15),(38,0.16),(42,0.15),(46,0.17),(50,0.15),(54,0.18),(58,0.17),(62,0.25),(66,0.4),(69,0.52),(72,0.45),(76,0.35),(80,0.28),(84,0.25),(88,0.22),(92,0.25),(96,0.28),(100,0.25),(104,0.27),(108,0.3),(112,0.35),(116,0.3),(120,0.28),(124,0.25),(128,0.3),(132,0.32),(136,0.3),(140,0.3),(144,0.35),(148,0.38),(152,0.32),(156,0.3),(160,0.3),(164,0.28),(168,0.25),(172,0.2),(176,0.25),(180,0.28),(184,0.25),(188,0.2),(192,0.17),(196,0.18),(200,0.17),(204,0.2),(208,0.25),(212,0.22),(216,0.2),(220,0.18),(224,0.2),(228,0.22),(232,0.2),(236,0.23),(240,0.27),(244,0.35),(248,0.45),(251,0.6),(253,0.9),(255,0.98),(257,0.8),(260,0.45),(264,0.3),(268,0.22),(272,0.18),(276,0.17),(280,0.16),(284,0.17),(288,0.15),(292,0.18),(296,0.22),(300,0.32),(304,0.2),(308,0.17),(312,0.15),(316,0.18),(320,0.25),(324,0.2),(328,0.22),(332,0.25),(336,0.2),(340,0.22),(344,0.18),(348,0.2),(352,0.17),(356,0.2),(360,0.22),(364,0.2),(368,0.18),(372,0.17),(376,0.15),(380,0.17),(384,0.15),(388,0.18),(392,0.17),(396,0.15),(400,0.17),(404,0.18),(408,0.2),(412,0.22),(416,0.17),(420,0.15),(424,0.18),(428,0.2),(432,0.15),(436,0.2),(440,0.3),(444,0.5),(447,0.35),(450,0.25),(454,0.22),(458,0.3),(462,0.25),(466,0.2),(470,0.3),(474,0.4),(478,0.55),(481,0.58),(484,0.5),(488,0.35),(492,0.25),(496,0.3),(500,0.27),(504,0.2),(508,0.15),(512,0.17),(516,0.2),(520,0.22),(524,0.25),(528,0.35),(531,0.28),(534,0.2),(538,0.25),(542,0.2),(546,0.25),(550,0.22),(554,0.28),(558,0.3),(561,0.33),(564,0.25),(568,0.2),(572,0.32),(576,0.2),(580,0.3),(584,0.25),(588,0.2),(592,0.25),(596,0.18),(600,0.17),(604,0.2),(608,0.17),(612,0.25),(616,0.3),(620,0.38),(623,0.3),(627,0.2),(631,0.18),(635,0.25),(639,0.2),(643,0.22),(647,0.2),(651,0.17),(655,0.18),(659,0.28),(662,0.25),(666,0.18),(670,0.17),(674,0.2),(677,0.3),(680,0.35)]

panel_letters = ["A", "B", "C", "D", "E"]
x_ticklabels = {"A": [100, 200, 300, 400, 500, 600],
                "B": [0, 100, 200, 300, 400, 500, 600],
                "C": [0, 100, 200, 300, 400, 500, 600],
                "D": [0, 100, 200, 300, 400, 500, 600],
                "E": [0, 100, 200, 300, 400, 500, 600]}
y_ticks = [0, 0.5, 1, 1.5]
y_ticklabels = ["0", "0.5", "1", "1.5"]
xlabel = "Residue"
ylabel = "RMSF (nm)"
series = {"A": (A_black, A_red, A_green), "B": (B_black, B_red, B_green),
          "C": (C_black, C_red, C_green), "D": (D_black, D_red, D_green),
          "E": (E_black, E_red, E_green)}
colors = ["#000000", "#ff0000", "#00f000"]

# ---------------- layout (figure pixels 1650 x 1669) ----------------
W, H = 1650, 1669
boxes = {  # left, right, top, bottom in pixels
    "A": (80, 802, 11, 516),
    "B": (78, 800, 585, 1065),
    "C": (66, 790, 1134, 1621),
    "D": (905, 1643, 12, 515),
    "E": (905, 1645, 584, 1063),
}
xlims = {"A": (1, 682), "B": (0, 680), "C": (0, 680), "D": (0, 678), "E": (0, 680)}
letter_pos = {"A": (0.051, 0.913), "B": (0.051, 0.906), "C": (0.068, 0.906),
              "D": (0.076, 0.907), "E": (0.072, 0.919)}
ylabel_x = {"A": -0.057, "B": -0.057, "C": -0.061, "D": -0.066, "E": -0.062}
xlabel_y = {"A": -0.062, "B": -0.060, "C": -0.064, "D": -0.062, "E": -0.053}

fig = plt.figure(figsize=(W / 100, H / 100), dpi=100)
fig.patch.set_facecolor("white")

for p in panel_letters:
    l, r, t, b = boxes[p]
    ax = fig.add_axes([l / W, 1 - b / H, (r - l) / W, (b - t) / H])
    for s, c in zip(series[p], colors):
        xs = [q[0] for q in s]
        ys = [q[1] for q in s]
        ax.plot(xs, ys, color=c, lw=2.4, solid_joinstyle="round")
    ax.set_xlim(*xlims[p])
    ax.set_ylim(0, 1.5)
    ax.xaxis.set_major_locator(FixedLocator(x_ticklabels[p]))
    ax.set_xticklabels([str(v) for v in x_ticklabels[p]])
    ax.xaxis.set_minor_locator(MultipleLocator(50))
    ax.set_yticks(y_ticks)
    ax.set_yticklabels(y_ticklabels)
    ax.yaxis.set_minor_locator(MultipleLocator(0.25))
    ax.tick_params(which="both", direction="in", top=True, right=True, width=1.0)
    ax.tick_params(which="major", length=10, labelsize=15, pad=5)
    ax.tick_params(which="minor", length=5)
    for lab in ax.get_xticklabels() + ax.get_yticklabels():
        lab.set_fontweight("bold")
    for sp in ax.spines.values():
        sp.set_linewidth(1.8)
    ax.set_xlabel(xlabel, fontsize=14.5, fontweight="bold")
    ax.set_ylabel(ylabel, fontsize=17, fontweight="bold")
    ax.xaxis.set_label_coords(0.5, xlabel_y[p])
    ax.yaxis.set_label_coords(ylabel_x[p], 0.5)
    ax.text(letter_pos[p][0], letter_pos[p][1], p, transform=ax.transAxes,
            fontsize=22, fontweight="bold", ha="center", va="center",
            family=["Liberation Sans", "DejaVu Sans"])

fig.savefig("out.png", dpi=100, facecolor="white")
